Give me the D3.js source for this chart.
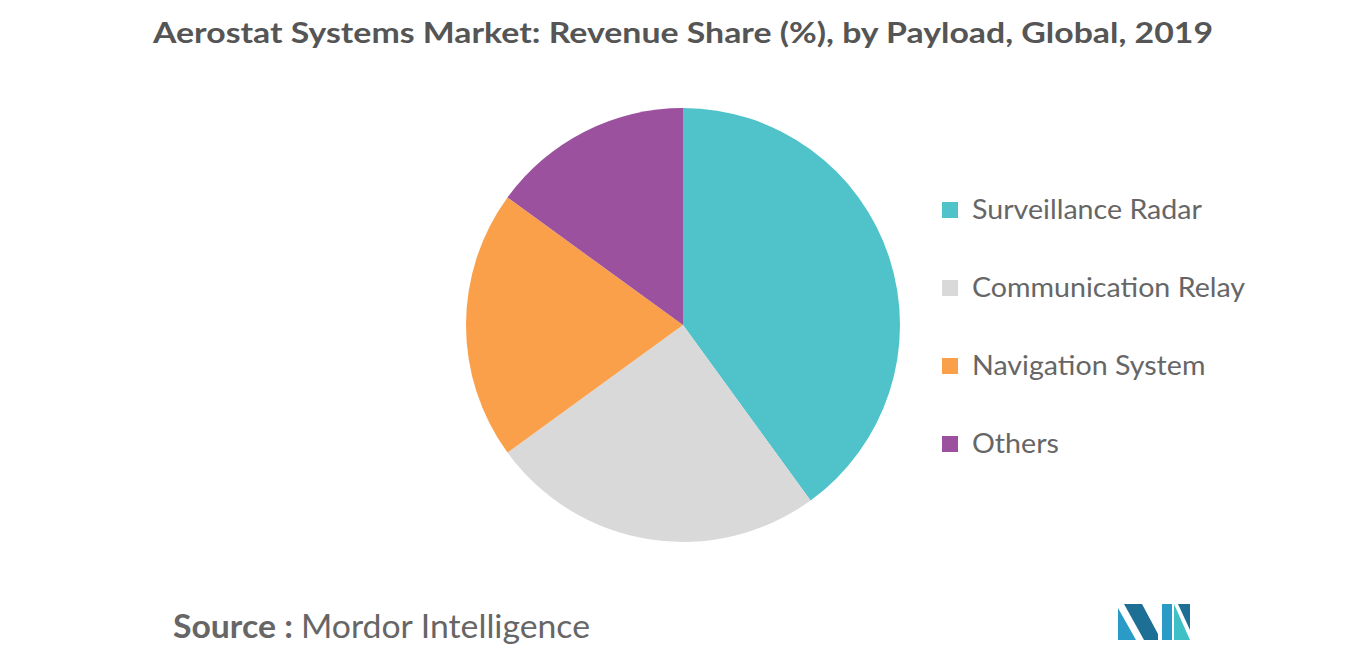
<!DOCTYPE html>
<html>
<head>
<meta charset="utf-8">
<script src="https://cdn.jsdelivr.net/npm/d3@7"></script>
<style>
  body { margin: 0; background: #fff; font-family: Lato, "Open Sans", sans-serif; }
</style>
</head>
<body>
<svg id="chart" width="1366" height="655"></svg>
<script>
const categories = ["Surveillance Radar", "Communication Relay", "Navigation System", "Others"];
const shares = [40, 25, 20, 15];
const colors = ["#4fc3c9", "#d9d9d9", "#fba04a", "#9b519e"];

const svg = d3.select("#chart");

svg.append("text")
  .attr("x", 153).attr("y", 43)
  .attr("textLength", 1060).attr("lengthAdjust", "spacingAndGlyphs")
  .style("font-size", "29px").style("font-weight", "bold")
  .style("fill", "#555")
  .text("Aerostat Systems Market: Revenue Share (%), by Payload, Global, 2019");

const pie = d3.pie().sort(null).value(d => d)(shares);
const arc = d3.arc().innerRadius(0).outerRadius(217);

svg.append("g")
  .attr("transform", "translate(683,325)")
  .selectAll("path")
  .data(pie)
  .enter()
  .append("path")
  .attr("d", arc)
  .attr("fill", (d, i) => colors[i]);

const legend = svg.append("g").attr("transform", "translate(942,210)");
const items = legend.selectAll("g")
  .data(categories)
  .enter()
  .append("g")
  .attr("transform", (d, i) => `translate(0,${i * 78})`);
items.append("rect")
  .attr("x", 0).attr("y", -8).attr("width", 16).attr("height", 16)
  .attr("fill", (d, i) => colors[i]);
items.append("text")
  .attr("x", 30).attr("y", 9)
  .style("font-size", "26px").style("fill", "#666")
  .each(function (d) {
    const t = d3.select(this).text(d);
    const w = this.getComputedTextLength();
    t.attr("textLength", w * 1.1).attr("lengthAdjust", "spacingAndGlyphs");
  });

const src = svg.append("text").attr("x", 173).attr("y", 638)
  .attr("textLength", 417).attr("lengthAdjust", "spacingAndGlyphs")
  .style("font-size", "32px").style("fill", "#666");
src.append("tspan").style("font-weight", "bold").text("Source : ");
src.append("tspan").text("Mordor Intelligence");

// logo
const logo = svg.append("g").attr("transform", "translate(1118,604)");
logo.append("path").attr("d", "M0,36 L0,4 L18,36 Z").attr("fill", "#2a9bc7");
logo.append("path").attr("d", "M6,0 L24,0 L40,30 L40,36 L26,36 Z").attr("fill", "#1d6f95");
logo.append("path").attr("d", "M44,36 L44,0 L54,0 L54,36 Z").attr("fill", "#2a9bc7");
logo.append("path").attr("d", "M56,0 L72,36 L56,36 Z").attr("fill", "#3ec0c6");
logo.append("path").attr("d", "M60,0 L72,0 L72,26 Z").attr("fill", "#1d6f95");
</script>
</body>
</html>
